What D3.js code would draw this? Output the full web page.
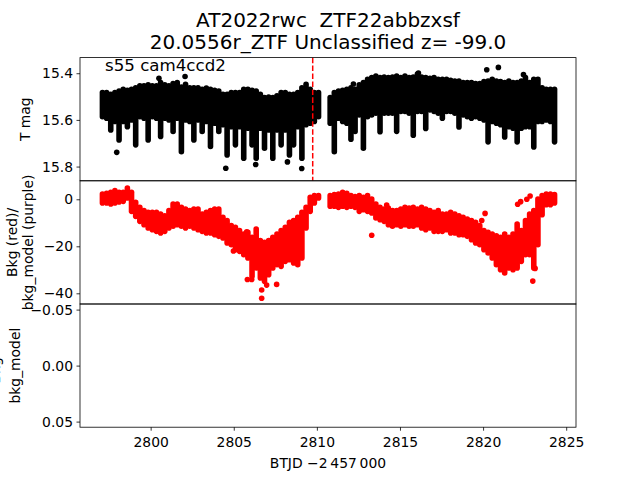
<!DOCTYPE html>
<html><head><meta charset="utf-8">
<script src="https://cdn.jsdelivr.net/npm/d3@7"></script>
<style>body{margin:0;background:#fff}svg{display:block}text{font-family:"DejaVu Sans",sans-serif;white-space:pre}</style>
</head><body><div id="c"></div>
<script>
// ---- data ----
const titleLines = ["AT2022rwc  ZTF22abbzxsf", "20.0556r_ZTF Unclassified z= -99.0"];
const annotation = "s55 cam4ccd2";
const sectorMarker = 2809.75;
const binTime = [2797.10,2797.35,2797.60,2797.85,2798.10,2798.35,2798.60,2798.85,2799.10,2799.35,2799.60,2799.85,2800.10,2800.35,2800.60,2800.85,2801.10,2801.35,2801.60,2801.85,2802.10,2802.35,2802.60,2802.85,2803.10,2803.35,2803.60,2803.85,2804.10,2804.35,2804.60,2804.85,2805.10,2805.35,2805.60,2805.85,2806.10,2806.35,2806.60,2806.85,2807.10,2807.35,2807.60,2807.85,2808.10,2808.35,2808.60,2808.85,2809.10,2809.35,2809.60,2809.85,2810.10,
2810.80,2811.05,2811.30,2811.55,2811.80,2812.05,2812.30,2812.55,2812.80,2813.05,2813.30,2813.55,2813.80,2814.05,2814.30,2814.55,2814.80,2815.05,2815.30,2815.55,2815.80,2816.05,2816.30,2816.55,2816.80,2817.05,2817.30,2817.55,2817.80,2818.05,2818.30,2818.55,2818.80,2819.05,2819.30,2819.55,2819.80,2820.05,2820.30,2820.55,2820.80,2821.05,2821.30,2821.55,2821.80,2822.05,2822.30,2822.55,2822.80,2823.05,2823.30,2823.55,2823.80,2824.05,2824.30];
const magBright = [15.483,15.483,15.490,15.483,15.476,15.469,15.473,15.469,15.462,15.454,15.454,15.450,15.454,15.454,15.440,15.450,15.454,15.444,15.440,15.459,15.447,15.462,15.462,15.462,15.469,15.464,15.469,15.473,15.476,15.490,15.490,15.483,15.483,15.483,15.469,15.469,15.473,15.476,15.490,15.504,15.502,15.504,15.497,15.483,15.483,15.490,15.490,15.483,15.462,15.447,15.469,15.483,15.483,
15.504,15.483,15.476,15.473,15.469,15.462,15.469,15.450,15.440,15.426,15.419,15.412,15.419,15.416,15.419,15.416,15.412,15.419,15.412,15.419,15.416,15.404,15.416,15.419,15.422,15.419,15.426,15.426,15.426,15.430,15.433,15.433,15.440,15.440,15.440,15.444,15.444,15.436,15.433,15.426,15.433,15.436,15.440,15.433,15.440,15.440,15.433,15.419,15.440,15.426,15.426,15.462,15.469,15.469,15.469];
const magFaint = [15.586,15.593,15.643,15.607,15.686,15.607,15.629,15.600,15.707,15.586,15.593,15.686,15.586,15.593,15.671,15.593,15.600,15.650,15.593,15.736,15.600,15.607,15.686,15.600,15.650,15.607,15.714,15.614,15.650,15.621,15.750,15.629,15.707,15.629,15.764,15.636,15.707,15.764,15.636,15.721,15.643,15.764,15.643,15.707,15.643,15.750,15.707,15.629,15.764,15.621,15.614,15.607,15.586,
15.614,15.736,15.593,15.607,15.614,15.683,15.650,15.579,15.721,15.586,15.579,15.571,15.651,15.571,15.571,15.571,15.649,15.564,15.564,15.571,15.666,15.564,15.564,15.637,15.557,15.564,15.571,15.593,15.564,15.564,15.571,15.630,15.579,15.586,15.593,15.586,15.593,15.600,15.694,15.607,15.614,15.621,15.673,15.629,15.636,15.694,15.636,15.629,15.629,15.716,15.607,15.607,15.600,15.607,15.694];
const magOutTime = [2797.96,2800.50,2802.07,2804.52,2806.32,2808.23,2809.09,2812.20,2816.11,2820.22,2820.92,2822.43];
const magOutVal  = [15.739,15.422,15.414,15.807,15.791,15.780,15.808,15.446,15.399,15.385,15.375,15.406];
const bkgHigh = [2.26,2.54,2.97,3.67,2.97,2.97,4.81,2.97,-1.29,-3.42,-4.84,-5.55,-5.55,-5.55,-6.26,-6.97,-4.84,-2.00,-2.00,-3.42,-4.13,-4.84,-4.13,-4.13,-6.26,-5.55,-4.84,-4.13,-4.13,-7.67,-9.09,-11.22,-11.93,-13.35,-14.77,-14.06,-16.18,-12.64,-17.60,-18.31,-17.60,-16.18,-14.77,-13.35,-11.93,-9.80,-9.09,-7.67,-5.55,-3.42,0.84,1.55,1.55,
1.55,1.97,2.26,2.97,2.54,1.55,1.12,1.55,0.84,1.55,0.13,-2.00,-3.42,-4.13,-3.70,-4.84,-4.84,-4.13,-3.42,-3.70,-3.42,-4.13,-3.42,-4.13,-4.84,-5.55,-4.84,-6.26,-6.26,-5.55,-6.26,-6.97,-7.67,-8.38,-9.09,-9.80,-11.22,-13.35,-14.06,-14.77,-15.48,-16.18,-14.77,-16.18,-14.77,-10.51,-13.35,-9.09,-6.26,-4.84,0.13,1.55,2.26,2.26,1.97];
const bkgLow = [-1.57,-1.57,-2.00,-1.57,-1.15,-0.87,0.55,-5.12,-7.25,-9.38,-10.79,-12.21,-12.92,-13.63,-14.34,-13.63,-12.21,-11.50,-10.79,-11.50,-12.21,-11.50,-12.21,-12.92,-13.63,-14.34,-14.34,-15.05,-15.76,-16.47,-18.60,-19.31,-21.43,-22.14,-23.56,-24.98,-32.78,-29.23,-33.49,-34.91,-32.07,-29.23,-27.82,-28.53,-26.40,-25.69,-27.11,-27.82,-24.98,-12.21,-5.12,-1.57,0.55,
-2.99,-2.99,-3.42,-2.99,-3.42,-2.99,-3.42,-5.12,-4.41,-5.12,-5.83,-7.96,-8.67,-9.38,-10.79,-11.50,-10.79,-11.50,-10.79,-11.50,-11.50,-10.79,-12.21,-12.92,-12.21,-13.63,-13.63,-13.63,-12.92,-14.34,-14.34,-15.05,-15.05,-15.76,-17.18,-18.60,-19.31,-21.43,-22.85,-24.98,-27.82,-29.94,-31.36,-29.23,-29.94,-29.23,-26.40,-23.56,-23.56,-29.23,-19.31,-6.54,-2.28,-2.28,-1.57];
const bkgOutTime = [2804.98,2805.78,2805.82,2806.08,2806.68,2806.68,2806.98,2807.58,2813.30,2814.20,2819.92,2820.12,2822.08,2822.26,2822.63,2822.83,2822.99,2823.13];
const bkgOutVal  = [-22.0,-13.8,-34.1,-34.1,-38.6,-42.1,-36.5,-36.2,-15.3,-2.4,-9.0,-6.0,-2.1,-1.0,0.0,1.4,-34.8,-29.4];
const timeTicks = [2800,2805,2810,2815,2820,2825];
const magTicks = [15.4,15.6,15.8];
const bkgTicks = [0,-20,-40];
const diffTicks = [-0.05,0.00,0.05];
const yLabels = [["T mag"], ["Bkg (red)/", "bkg_model (purple)"], ["Bkg -", "bkg_model"]];
const xLabel = "BTJD \u22122\u2009457\u2009000";

// ---- layout ----
const W = 640, H = 480, L = 80, R = 576, T0 = 57.6, PH = 123.2;
const svg = d3.select("#c").append("svg").attr("width", W).attr("height", H);
const x = d3.scaleLinear().domain([2795.75, 2825.59]).range([L, R]);
const tops = [T0, T0 + PH, T0 + 2 * PH];
const yMag = d3.scaleLinear().domain([15.333, 15.861]).range([tops[0], tops[0] + PH]);
const yBkg = d3.scaleLinear().domain([7.87, -44.55]).range([tops[1], tops[1] + PH]);
const yDiff = d3.scaleLinear().domain([-0.055, 0.055]).range([tops[2], tops[2] + PH]);
const FS = 13.9, R0 = 2.8;

function clip(id, i) {
  svg.append("clipPath").attr("id", id).append("rect")
    .attr("x", L).attr("y", tops[i]).attr("width", R - L).attr("height", PH);
}
clip("c0", 0); clip("c1", 1); clip("c2", 2);

// top panel data
const g0 = svg.append("g").attr("clip-path", "url(#c0)");
g0.selectAll("line.b").data(binTime).join("line")
  .attr("x1", d => x(d)).attr("x2", d => x(d))
  .attr("y1", (d, i) => yMag(magBright[i])).attr("y2", (d, i) => yMag(magFaint[i]))
  .attr("stroke", "#000").attr("stroke-width", 2 * R0).attr("stroke-linecap", "round");
g0.selectAll("circle").data(magOutTime).join("circle")
  .attr("cx", d => x(d)).attr("cy", (d, i) => yMag(magOutVal[i])).attr("r", R0).attr("fill", "#000");
g0.append("line").attr("x1", x(sectorMarker)).attr("x2", x(sectorMarker))
  .attr("y1", tops[0]).attr("y2", tops[0] + PH)
  .attr("stroke", "#ff0000").attr("stroke-width", 1.5).attr("stroke-dasharray", "5.55,2.4");

// middle panel data
const g1 = svg.append("g").attr("clip-path", "url(#c1)");
g1.selectAll("line").data(binTime).join("line")
  .attr("x1", d => x(d)).attr("x2", d => x(d))
  .attr("y1", (d, i) => yBkg(bkgHigh[i])).attr("y2", (d, i) => yBkg(bkgLow[i]))
  .attr("stroke", "#ff0000").attr("stroke-width", 2 * R0).attr("stroke-linecap", "round");
g1.selectAll("circle").data(bkgOutTime).join("circle")
  .attr("cx", d => x(d)).attr("cy", (d, i) => yBkg(bkgOutVal[i])).attr("r", R0).attr("fill", "#ff0000");

// axes
function yAxis(scale, ticks, fmt) {
  const g = svg.append("g").attr("transform", `translate(${L},0)`)
    .call(d3.axisLeft(scale).tickValues(ticks).tickFormat(fmt).tickSize(3.5).tickPadding(3.5));
  g.select(".domain").remove();
  g.selectAll("line").attr("stroke", "#000").attr("stroke-width", 0.8);
  g.selectAll("text").attr("font-size", FS).attr("fill", "#000").attr("font-family", "DejaVu Sans");
}
yAxis(yMag, magTicks, d3.format(".1f"));
yAxis(yBkg, bkgTicks, d3.format("d"));
yAxis(yDiff, diffTicks, d3.format(".2f"));
const gx = svg.append("g").attr("transform", `translate(0,${tops[2] + PH})`)
  .call(d3.axisBottom(x).tickValues(timeTicks).tickFormat(d3.format("d")).tickSize(3.5).tickPadding(3.5));
gx.select(".domain").remove();
gx.selectAll("line").attr("stroke", "#000").attr("stroke-width", 0.8);
gx.selectAll("text").attr("font-size", FS).attr("fill", "#000").attr("font-family", "DejaVu Sans").attr("dy", "0.95em");

// spines
tops.forEach(t => svg.append("rect").attr("x", L).attr("y", t).attr("width", R - L).attr("height", PH)
  .attr("fill", "none").attr("stroke", "#000").attr("stroke-width", 0.8));

// labels
const labelX = [[29.5], [16.5, 33], [0, 19.5]];
yLabels.forEach((lines, i) => {
  lines.forEach((s, j) => {
    svg.append("text").attr("transform", `translate(${labelX[i][j]},${tops[i] + PH / 2}) rotate(-90)`)
      .attr("text-anchor", "middle").attr("font-size", FS).text(s);
  });
});
svg.append("text").attr("x", (L + R) / 2).attr("y", 468).attr("text-anchor", "middle").attr("font-size", FS).text(xLabel);
svg.append("text").attr("x", 105).attr("y", 70.5).attr("font-size", 16.67).text(annotation);
titleLines.forEach((s, i) => svg.append("text").attr("x", (L + R) / 2).attr("y", 27 + 22 * i)
  .attr("text-anchor", "middle").attr("font-size", 20).attr("xml:space", "preserve").text(s));
</script></body></html>
